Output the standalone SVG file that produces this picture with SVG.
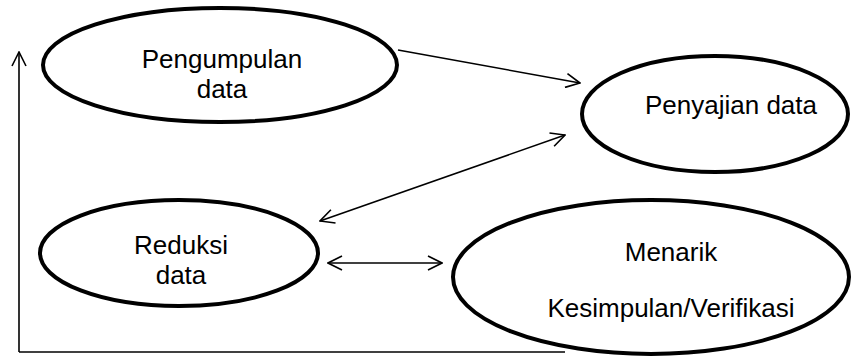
<svg xmlns="http://www.w3.org/2000/svg" width="853" height="358" viewBox="0 0 853 358">
<defs>
<marker id="arr" viewBox="0 0 16 16" refX="15" refY="8" markerWidth="16" markerHeight="16" markerUnits="userSpaceOnUse" orient="auto-start-reverse">
<path d="M1,1 L15,8 L1,15" fill="none" stroke="#000" stroke-width="1.6"/>
</marker>
</defs>
<style>
.node ellipse{fill:#fff;stroke:#000;stroke-width:4}
.node text{font-family:"Liberation Sans","Open Sans",sans-serif;font-size:26px;fill:#000;text-anchor:middle}
.conn line{stroke:#000;stroke-width:1.6;fill:none}
</style>
<rect width="853" height="358" fill="#fff"/>
<g id="connectors" class="conn">
<line x1="19" y1="352" x2="19" y2="52" marker-end="url(#arr)"/>
<line x1="19" y1="352" x2="565" y2="352"/>
<line x1="398" y1="50" x2="580" y2="83" marker-end="url(#arr)"/>
<line x1="565" y1="135" x2="320" y2="221" marker-start="url(#arr)" marker-end="url(#arr)"/>
<line x1="328" y1="263" x2="442" y2="263" marker-start="url(#arr)" marker-end="url(#arr)"/>
</g>
<g id="pengumpulan" class="node">
<ellipse cx="220" cy="65" rx="177" ry="57"/>
<text x="222" y="68">Pengumpulan</text>
<text x="222" y="98">data</text>
</g>
<g id="penyajian" class="node">
<ellipse cx="715" cy="114" rx="133" ry="58"/>
<text x="731" y="114">Penyajian data</text>
</g>
<g id="reduksi" class="node">
<ellipse cx="179" cy="253" rx="139" ry="53"/>
<text x="181" y="254">Reduksi</text>
<text x="181" y="284">data</text>
</g>
<g id="menarik" class="node">
<ellipse cx="651" cy="277" rx="198" ry="77"/>
<text x="671" y="261">Menarik</text>
<text x="671" y="317">Kesimpulan/Verifikasi</text>
</g>
</svg>
